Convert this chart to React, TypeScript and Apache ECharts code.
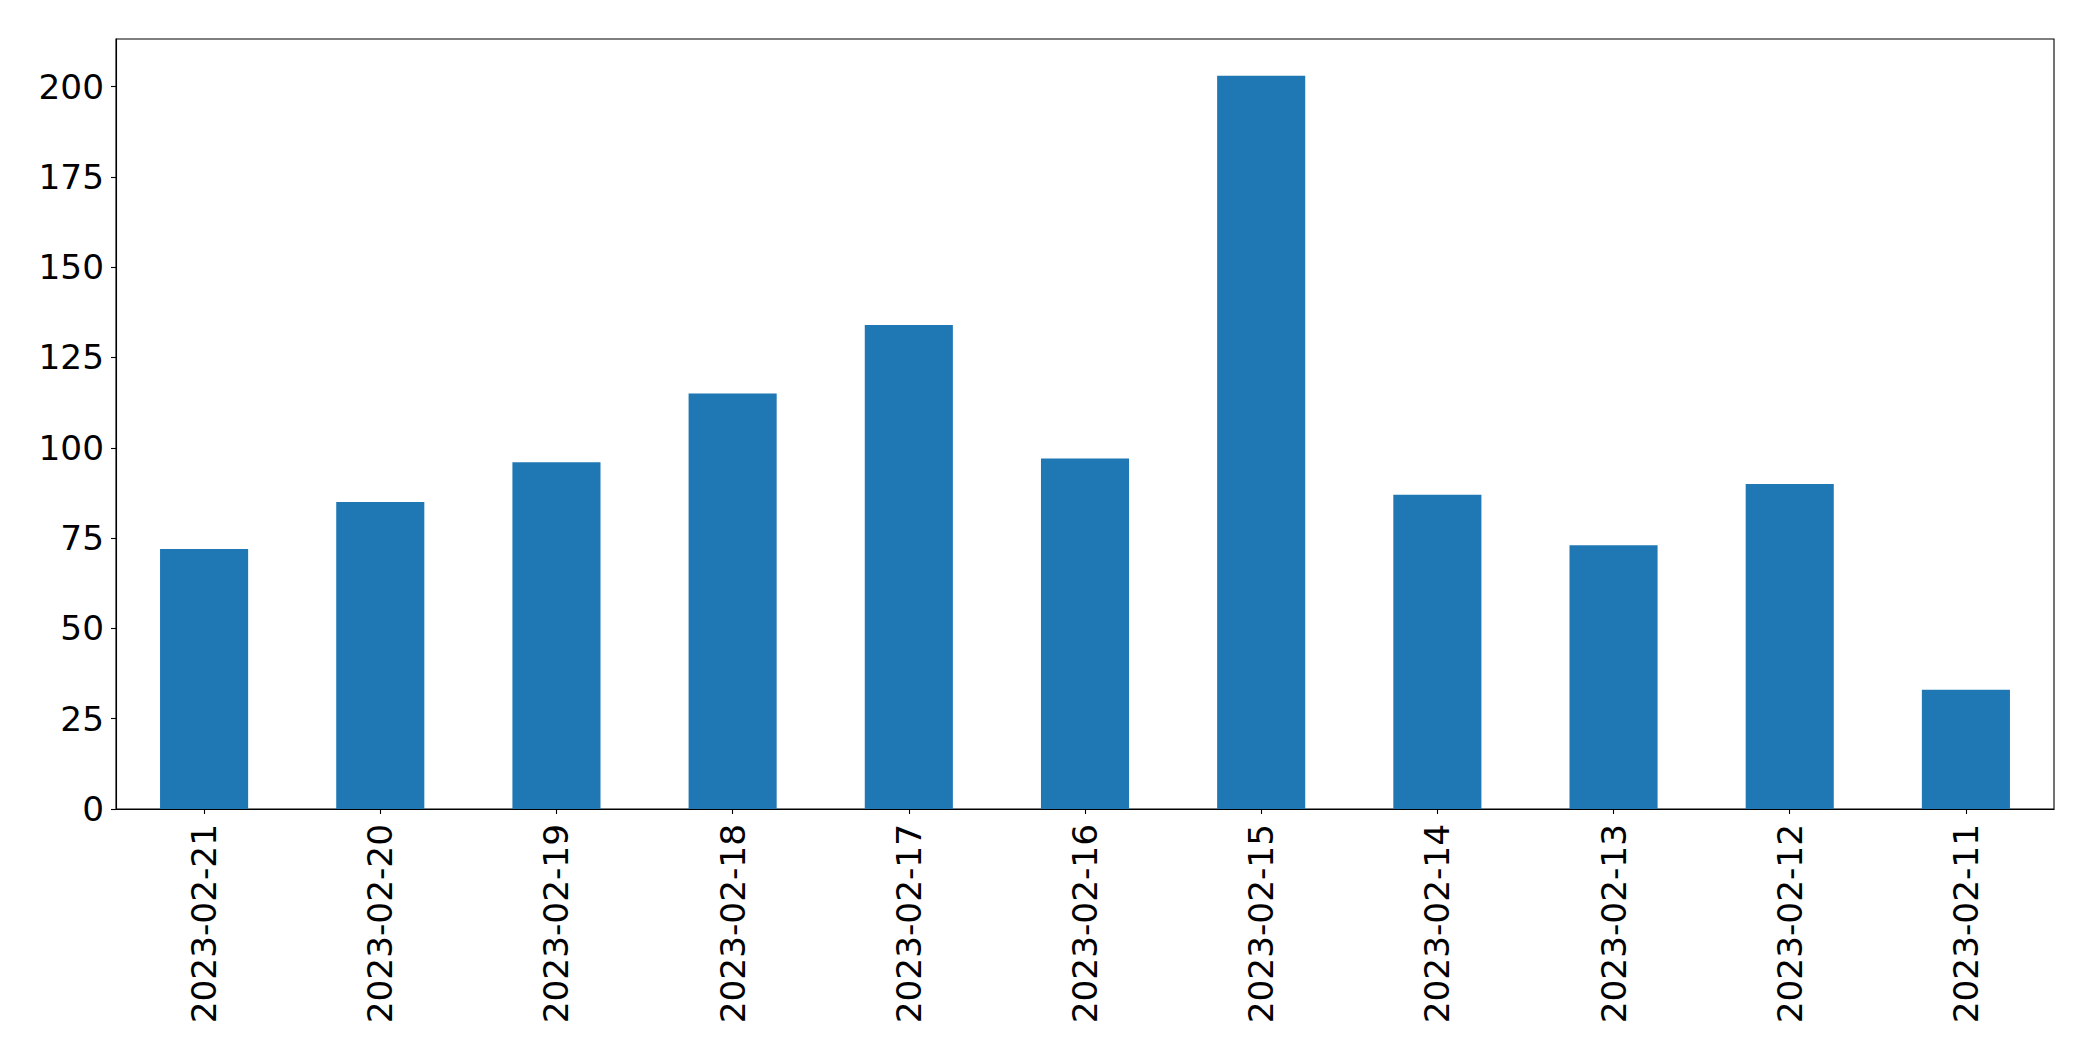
import React, { useEffect, useRef } from "react";
import * as echarts from "echarts";

const categories = [
  "2023-02-21",
  "2023-02-20",
  "2023-02-19",
  "2023-02-18",
  "2023-02-17",
  "2023-02-16",
  "2023-02-15",
  "2023-02-14",
  "2023-02-13",
  "2023-02-12",
  "2023-02-11",
];
const counts = [72, 85, 96, 115, 134, 97, 203, 87, 73, 90, 33];
const yTicks = [0, 25, 50, 75, 100, 125, 150, 175, 200];

export default function App() {
  const ref = useRef<HTMLDivElement>(null);
  useEffect(() => {
    if (!ref.current) return;
    const chart = echarts.init(ref.current, null, { renderer: "svg" });
    const font = "DejaVu Sans";
    const yMax = Math.max(...counts) * 1.05;
    chart.setOption({
      animation: false,
      backgroundColor: "#ffffff",
      grid: {
        left: 116,
        top: 39,
        width: 1938,
        height: 770,
        show: true,
        borderColor: "#000000",
        borderWidth: 1.1,
        backgroundColor: "transparent",
      },
      xAxis: {
        type: "category",
        data: categories,
        boundaryGap: true,
        axisLine: { show: true, lineStyle: { color: "#000000", width: 1.1 } },
        axisTick: {
          show: true,
          alignWithLabel: true,
          length: 5,
          lineStyle: { color: "#000000", width: 1.1 },
        },
        axisLabel: {
          rotate: 90,
          fontSize: 34.3,
          fontFamily: font,
          color: "#000000",
          margin: 15,
          interval: 0,
        },
        splitLine: { show: false },
      },
      yAxis: {
        type: "value",
        min: 0,
        max: yMax,
        axisLine: { show: true, lineStyle: { color: "#000000", width: 1.1 } },
        axisTick: {
          show: true,
          length: 5,
          customValues: yTicks,
          lineStyle: { color: "#000000", width: 1.1 },
        },
        axisLabel: {
          fontSize: 34.3,
          fontFamily: font,
          color: "#000000",
          margin: 12,
          customValues: yTicks,
        },
        splitLine: { show: false },
      },
      series: [
        {
          type: "bar",
          data: counts,
          barWidth: "50%",
          itemStyle: { color: "#1f77b4" },
        },
      ],
    });
    return () => chart.dispose();
  }, []);
  return (
    <div
      ref={ref}
      style={{ position: "fixed", left: 0, top: 0, width: 2093, height: 1061, background: "#fff" }}
    />
  );
}
